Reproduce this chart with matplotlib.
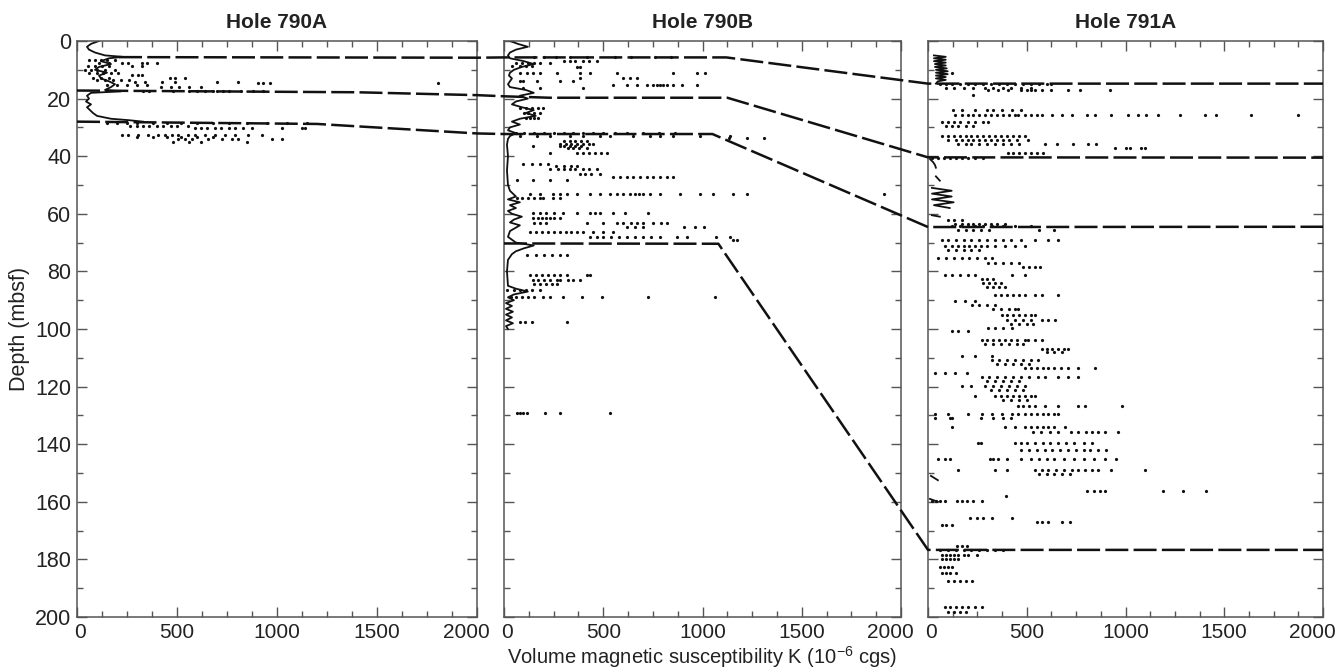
import matplotlib
matplotlib.use("Agg")
import matplotlib.pyplot as plt
from matplotlib.lines import Line2D
from matplotlib.ticker import MultipleLocator
from matplotlib.transforms import ScaledTranslation
import numpy as np

plt.rcParams['font.family'] = ['Liberation Sans', 'DejaVu Sans']
plt.rcParams['mathtext.fontset'] = 'custom'
plt.rcParams['mathtext.rm'] = 'Liberation Sans'

holes = ['Hole 790A', 'Hole 790B', 'Hole 791A']
k_ticks = [0, 500, 1000, 1500, 2000]
depth_ticks = [0, 20, 40, 60, 80, 100, 120, 140, 160, 180, 200]

# low-value continuous readings (depth, K)
trace_790a = [(0, 110), (1, 70), (2, 50), (3, 60), (4, 90), (5, 140), (5.5, 230), (6, 160),
              (7, 120), (8, 170), (9, 110), (10, 90), (11, 150), (12, 110), (13, 120), (14, 160),
              (15, 190), (16, 170), (17, 140), (17.5, 220), (18, 70), (19, 50), (20, 60), (21, 45),
              (22, 70), (23, 50), (24, 65), (25, 80), (26, 100), (27, 170), (27.5, 260), (28, 330)]

trace_790b = [(0, 30), (1, 70), (2, 120), (3, 60), (4, 30), (5, 20), (6, 30), (7, 100), (8, 150),
              (9, 90), (10, 50), (11, 30), (12, 25), (13, 40), (14, 30), (15, 20), (16, 30), (17, 110),
              (18, 150), (19, 80), (20, 120), (21, 60), (22, 40), (23, 90), (24, 150), (25, 110),
              (26, 160), (27, 80), (28, 40), (29, 80), (30, 30), (31, 20), (32, 60), (33, 30), (34, 20),
              (36, 15), (40, 20), (45, 15), (50, 20), (52, 30), (54, 60), (55, 20), (56, 80), (57, 30),
              (58, 60), (59, 20), (60, 40), (61, 90), (62, 50), (63, 30), (64, 80), (66, 30), (68, 20),
              (70, 60), (71, 150), (72, 100), (73, 60), (74, 40), (76, 20), (80, 15), (85, 20), (86, 60),
              (87, 120), (88, 50), (89, 20), (90, 50), (91, 10), (92, 40), (93, 10), (94, 45), (95, 10),
              (96, 40), (97, 10), (98, 45), (99, 10), (100, 20)]

nan = float('nan')
trace_791a = [(5, 30), (5.5, 90), (6, 30), (6.5, 90), (7, 30), (7.5, 90), (8, 35), (8.5, 90), (9, 35),
              (9.5, 95), (10, 40), (10.5, 100), (11, 40), (11.5, 100), (12, 40), (12.5, 90), (13, 40),
              (13.5, 90), (14, 50), (14.8, 40), (15, nan), (41, 10), (42, 25), (43, 35), (44, 40),
              (45, nan), (47, 40), (48.5, 60), (49, nan), (51, 20), (52, 120), (53, 20), (54, 120),
              (55, 20), (56, 130), (57, 30), (58, 110), (59, nan), (60.5, 20), (61, 60), (62, nan),
              (151, 15), (152.5, 50), (153, nan), (159, 10), (160, 50)]

# scattered readings: (depth, [K values])
rows_790a = [
    (6.5, [60, 90, 120, 150, 190]),
    (7.6, [110, 160, 223, 257, 323, 348, 398]),
    (8.8, [57, 90, 123, 160, 273, 323]),
    (10.0, [40, 70, 100, 140, 190]),
    (11.2, [60, 100, 130, 170, 207]),
    (11.7, [273, 307, 323]),
    (12.8, [80, 120, 160, 465, 490, 540]),
    (13.5, [100, 140, 180, 220, 260]),
    (14.3, [290, 340, 423, 490, 698, 807]),
    (14.7, [907, 932, 965, 1805]),
    (15.3, [150, 200, 250, 300, 350]),
    (16.0, [420, 470, 510, 560, 620]),
    (17.2, [330, 360, 480, 560, 600, 640, 680, 700, 730, 760, 820, 880, 930]),
    (28.6, [150, 200, 250, 300, 380, 450, 520, 600, 680, 760, 850, 950, 1050, 1150]),
    (29.6, [265, 300, 330, 360, 400, 430, 470, 500, 555]),
    (30.2, [590, 620, 650, 690, 720, 760, 790, 832, 873, 1023, 1123, 1140]),
    (32.5, [223, 257, 307, 357, 407, 440, 473, 507, 557, 590, 640, 690, 740, 790, 857, 923]),
    (33.3, [300, 380, 450, 520, 600, 680]),
    (34.2, [507, 540, 573, 657, 723, 773, 807, 973, 1023]),
    (35.0, [480, 560, 620, 850]),
]

rows_790b = [
    (5.4, [150, 200, 260, 330, 420, 560, 640, 760, 840]),
    (6.8, [300, 330, 360, 400, 430, 467]),
    (7.8, [60, 90, 120, 150, 180, 232]),
    (8.6, [40, 80, 110, 140]),
    (9.1, [366, 383]),
    (11.1, [81, 114, 148, 181, 265, 383, 433, 568, 853, 970, 1013]),
    (12.8, [383, 601, 635, 668]),
    (14.0, [81, 97, 165, 282, 350]),
    (15.2, [551, 618, 668, 719, 752, 770, 785, 800, 819, 853, 895, 970]),
    (16.3, [97, 181, 400]),
    (23.3, [81, 110, 140, 170, 198]),
    (24.9, [100, 120, 150, 180]),
    (26.7, [110, 130, 150, 170]),
    (32.0, [60, 100, 150, 200, 250, 300, 350, 400, 450, 500, 560, 620, 700, 780, 860]),
    (33.1, [81, 165, 232, 333, 400, 484, 534, 652, 736, 786, 853, 988, 1139]),
    (33.8, [1131, 1224, 1308]),
    (34.8, [300, 330, 360, 390, 420]),
    (35.6, [280, 310, 340, 370, 400, 430, 450]),
    (36.4, [148, 282, 300, 330, 360, 390]),
    (37.2, [320, 350, 380, 420]),
    (38.9, [232, 366, 400, 430, 460, 490, 517]),
    (42.6, [97, 140, 180, 220]),
    (43.3, [260, 300, 340, 366]),
    (44.6, [232, 270, 300, 330, 360, 400, 430, 467]),
    (46.3, [383, 410, 440, 484]),
    (47.3, [551, 585, 618, 652, 686, 719, 752, 786, 819, 853]),
    (48.1, [64, 148, 232, 316]),
    (53.0, [131, 181, 249, 282, 316, 366, 433, 484, 534, 568, 601, 635, 660, 680, 702, 736, 786,
            887, 988, 1055, 1156, 1223, 1912]),
    (54.5, [64, 90, 120, 150, 181, 198, 249, 282]),
    (59.8, [148, 180, 210, 250, 299, 366, 433, 460, 484, 551, 610, 727]),
    (61.6, [148, 170, 190, 210, 230, 250, 282]),
    (63.3, [150, 180, 210, 420, 500, 568, 600, 640, 670, 702, 753, 790, 820]),
    (64.5, [620, 660, 700, 909, 960, 1010]),
    (66.2, [131, 160, 190, 220, 250, 280, 310, 340, 366, 400, 450, 500, 550]),
    (67.9, [433, 470, 500, 540, 580, 620, 660, 700, 740, 786, 870, 920, 1070, 1140]),
    (69.0, [1156, 1176]),
    (74.3, [114, 160, 200, 240, 280, 316]),
    (81.2, [131, 160, 190, 220, 250, 280, 316, 420, 433]),
    (83.0, [148, 170, 200, 230, 265, 282, 320, 350, 383]),
    (84.5, [150, 180, 210, 240, 265]),
    (86.4, [17, 50, 80, 110, 140, 181]),
    (88.8, [34, 60, 90, 120, 150, 198, 232, 299, 391, 492, 727, 1063]),
    (97.4, [81, 106, 139, 316]),
    (129.2, [64, 80, 97, 114, 207, 282, 534]),
]

rows_791a = [
    (11.1, [120]),
    (15.0, [60, 90, 120, 160, 200, 240, 280, 320, 360, 400, 440, 480, 520, 560, 600, 625]),
    (16.3, [90, 130, 180, 230, 290, 330, 380, 420, 470, 520]),
    (16.9, [305, 356, 406, 473, 500, 520, 540, 575, 625, 709, 769, 921]),
    (18.6, [229]),
    (23.8, [128, 170, 238, 297, 330, 373, 423, 473]),
    (25.8, [137, 170, 200, 230, 260, 290, 320, 350, 380, 410, 440, 457, 490, 520, 550, 575, 626,
            676, 727, 803, 845, 929, 1013, 1064, 1106, 1164, 1275, 1402, 1460, 1637, 1874]),
    (28.2, [69, 100, 130, 160, 200, 240, 280, 305]),
    (29.4, [90, 120, 150, 190, 230]),
    (33.1, [69, 100, 130, 160, 190, 220, 250, 280, 310, 340, 370, 400, 430, 460, 490]),
    (34.3, [103, 140, 170, 200, 230, 260, 290, 320, 350, 380, 410, 450, 507]),
    (35.6, [150, 190, 220, 260, 300, 340, 380, 420, 460, 592, 651, 735, 811, 853]),
    (37.1, [946, 1000, 1022, 1081, 1100]),
    (38.9, [406, 430, 460, 490, 520, 550, 583]),
    (40.5, [20, 50, 80, 110, 140, 170, 200, 240, 280]),
    (62.0, [103, 130, 170]),
    (63.5, [137, 170, 200, 230, 260, 290, 320, 350, 389]),
    (64.4, [120, 160, 200, 240, 280, 322, 380, 440, 524]),
    (65.5, [150, 190, 230, 270, 310, 560, 640]),
    (69.2, [69, 100, 140, 180, 220, 260, 300, 340, 380, 420, 473, 541, 608, 659]),
    (71.2, [86, 120, 150, 180, 210, 240, 270, 300, 340, 389, 440, 490]),
    (72.5, [100, 140, 180, 220, 260]),
    (75.2, [52, 90, 130, 170, 210, 250, 290, 322]),
    (77.0, [305, 340, 380, 420, 460]),
    (78.3, [480, 510, 540, 566]),
    (81.2, [86, 120, 160, 200, 238, 423, 490]),
    (82.8, [271, 300, 330]),
    (84.0, [280, 310, 340, 370]),
    (85.5, [300, 330, 360, 389]),
    (88.1, [339, 370, 400, 430, 460, 490, 541, 575, 659]),
    (90.4, [137, 187, 238]),
    (91.5, [221, 260, 300, 340]),
    (93.2, [330, 370, 410, 440, 457]),
    (95.3, [373, 400, 430, 460, 490, 520, 541]),
    (96.8, [400, 440, 480, 520, 575, 608, 642]),
    (98.2, [420, 460, 500, 530]),
    (99.7, [305, 340, 380, 423]),
    (100.8, [120, 153, 204]),
    (103.9, [271, 300, 330, 360, 390, 420, 450, 490, 507, 540, 575]),
    (105.3, [290, 330, 370, 410, 450, 480]),
    (106.8, [575, 600, 630, 660, 690, 709]),
    (108.1, [600, 640, 680]),
    (109.5, [170, 238, 322]),
    (110.8, [322, 360, 400, 440, 480, 520, 558]),
    (112.2, [350, 390, 430, 470, 510]),
    (113.4, [490, 520, 550, 580, 610, 640, 675, 709, 760, 845]),
    (115.3, [35, 86, 137, 195]),
    (116.8, [271, 310, 350, 390, 430, 470, 510, 558, 592, 659, 709, 760]),
    (118.2, [300, 340, 380, 420, 460]),
    (119.8, [170, 220, 290, 330, 370, 410, 450, 490]),
    (121.3, [320, 360, 400, 440, 480]),
    (123.2, [238, 340, 370, 400, 430, 460, 490, 520, 541]),
    (124.5, [380, 420, 460, 500]),
    (126.6, [457, 480, 510, 541, 592, 659, 760, 794, 980]),
    (129.5, [35, 103, 204, 271, 322, 373, 423, 457, 490, 520, 550, 580, 608, 640, 659]),
    (131.0, [35, 110, 120, 270, 330, 380, 420]),
    (134.2, [120, 389, 440, 490, 520, 550, 580, 610, 640, 693]),
    (135.6, [530, 570, 620, 660, 726, 760, 800, 830, 860, 895, 963]),
    (139.6, [255, 270, 440, 470, 500, 540, 580, 620, 660, 700, 740, 790, 830]),
    (142.0, [470, 510, 550, 590, 630, 670, 710, 750, 790, 820, 860, 900]),
    (145.2, [52, 86, 111, 313, 330, 356, 398, 470, 520, 560, 600, 640, 690, 740, 790, 840, 895, 950]),
    (148.8, [153, 339, 398, 541, 575, 610, 650, 690, 730, 760, 794, 828, 862, 929, 1098]),
    (150.3, [560, 600, 640, 680, 720]),
    (156.2, [803, 840, 870, 895, 1191, 1292, 1410]),
    (158.1, [397]),
    (159.6, [20, 40, 60, 86, 145, 170, 195, 229, 271]),
    (165.6, [212, 246, 280, 322, 423]),
    (167.0, [550, 575, 609, 676, 718]),
    (168.2, [69, 90, 120]),
    (175.4, [145, 170, 195]),
    (176.6, [60, 100, 140, 180, 220, 260, 300, 340, 380]),
    (178.3, [69, 90, 110, 130, 150, 180, 204, 246]),
    (180.0, [70, 90, 110, 130, 150]),
    (182.6, [60, 80, 100, 120]),
    (184.6, [70, 90, 110, 140]),
    (187.6, [103, 130, 160, 190, 221]),
    (196.5, [86, 110, 140, 170, 200, 240, 271]),
    (198.2, [100, 130, 160, 190]),
]

# correlation tie lines: (hole index, K, depth)
tie_1 = [(0, 210, 5.6), (0, 2000, 5.8), (1, 0, 5.7), (1, 1120, 5.7), (2, 0, 14.8), (2, 2000, 14.8)]
tie_2 = [(0, 0, 17.2), (0, 1400, 17.8), (0, 2000, 18.8), (1, 0, 19.2), (1, 230, 19.7),
         (1, 1125, 19.7), (2, 0, 40.4), (2, 2000, 40.5)]
tie_3 = [(0, 0, 28.0), (0, 1200, 28.8), (0, 2000, 32.1), (1, 0, 32.3), (1, 1050, 32.3),
         (2, 0, 64.6), (2, 2000, 64.5)]
tie_4 = [(1, 0, 70.3), (1, 1080, 70.4), (2, 0, 176.7), (2, 2000, 176.7)]

traces = [trace_790a, trace_790b, trace_791a]
rows = [rows_790a, rows_790b, rows_791a]

fig = plt.figure(figsize=(13.37, 6.68), dpi=100)
lefts = [77, 504, 928]
widths = [400, 397, 395]
axes = []
for i in range(3):
    ax = fig.add_axes([lefts[i] / 1337, 51 / 668, widths[i] / 1337, 576 / 668])
    ax.set_xlim(0, 2000)
    ax.set_ylim(200, 0)
    ax.set_xticks(k_ticks)
    ax.set_yticks(depth_ticks)
    ax.xaxis.set_minor_locator(MultipleLocator(125))
    ax.yaxis.set_minor_locator(MultipleLocator(10))
    ax.tick_params(which='both', direction='in', top=True, right=True, color='#555555',
                   labelcolor='#222222')
    ax.tick_params(axis='x', labelsize=15, pad=4)
    ax.tick_params(axis='y', labelsize=15.5, pad=4)
    ax.tick_params(which='major', length=7, width=1)
    ax.tick_params(which='minor', length=4, width=1)
    for s in ax.spines.values():
        s.set_color('#555555')
        s.set_linewidth(1.1)
    if i > 0:
        ax.tick_params(labelleft=False)
    ax.set_title(holes[i], fontsize=15, fontweight='bold', pad=9, color='#222222')

    td = [p[0] for p in traces[i]]
    tk = [p[1] for p in traces[i]]
    ax.plot(tk, td, color='#111111', lw=1.3)

    sd = [r[0] for r in rows[i] for _ in r[1]]
    sk = [k for r in rows[i] for k in r[1]]
    ax.plot(sk, sd, 'o', color='#111111', ms=2.3, mew=0)
    axes.append(ax)

# end labels sit a little inside the axis as in the original
fig.canvas.draw()
for ax in axes:
    labels = ax.get_xticklabels()
    labels[-1].set_transform(labels[-1].get_transform()
                             + ScaledTranslation(-0.11, 0, fig.dpi_scale_trans))
    labels[0].set_transform(labels[0].get_transform()
                            + ScaledTranslation(0.03, 0, fig.dpi_scale_trans))

axes[0].set_ylabel('Depth (mbsf)', fontsize=15.5, color='#222222', labelpad=4)
fig.text(0.525, 0.007, r'Volume magnetic susceptibility K (10$^{\mathregular{-6}}$ cgs)',
         ha='center', va='baseline', fontsize=14.5, color='#222222')

inv = fig.transFigure.inverted()
for tie in [tie_1, tie_2, tie_3, tie_4]:
    pts = [inv.transform(axes[h].transData.transform((k, d))) for h, k, d in tie]
    pts = np.array(pts)
    fig.add_artist(Line2D(pts[:, 0], pts[:, 1], transform=fig.transFigure, color='#111111',
                          lw=1.8, dashes=(9.2, 2.1)))

fig.savefig('out.png', dpi=100)
